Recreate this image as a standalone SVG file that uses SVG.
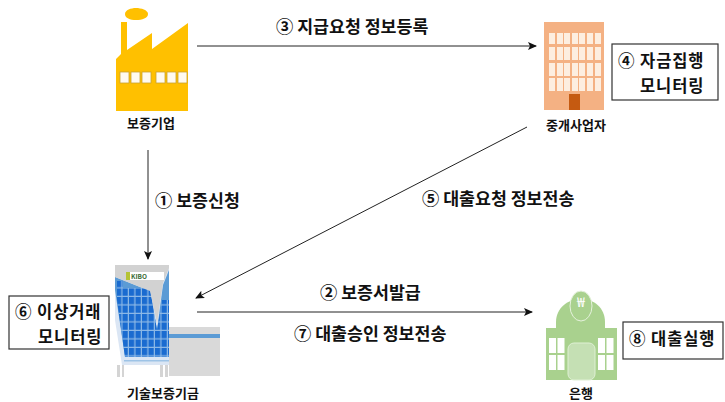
<svg xmlns="http://www.w3.org/2000/svg" width="725" height="402" viewBox="0 0 725 402">
<style>
text{font-family:"Noto Sans CJK KR","Noto Sans",sans-serif;fill:#111;font-weight:700}
.l{font-size:17.300px}
.n{font-size:13px;text-anchor:middle}
.b{font-size:16.500px;letter-spacing:.9px}
.box{fill:#fff;stroke:#333;stroke-width:1.2}
.c{fill:none;stroke:#222;stroke-width:1}
.fw{fill:#fffaf0;stroke:#c9a233;stroke-width:.8}
.ow{fill:#fdeee0}
.gw{fill:#fff}
</style>
<defs>
<marker id="a" markerWidth="9" markerHeight="8" refX="8" refY="4" orient="auto" markerUnits="userSpaceOnUse"><path d="M0 0L9 4L0 8L2 4Z" fill="#111"/></marker>
<pattern id="cells" x="116" y="280" width="6.500" height="8.500" patternUnits="userSpaceOnUse"><rect width="6.500" height="8.500" fill="#8db9e6"/><rect width="5.300" height="7.300" fill="#1a6bd0"/></pattern>
</defs>
<rect width="725" height="402" fill="#fff"/>
<g id="connectors">
<path class="c" marker-end="url(#a)" d="M197 46H536"/>
<path class="c" marker-end="url(#a)" d="M148 150V259"/>
<path class="c" marker-end="url(#a)" d="M527 127L196 298"/>
<path class="c" marker-end="url(#a)" d="M197 312H532"/>
</g>
<g id="factory">
<path d="M125 14C125 10 131 8 136 8S148 10 148 14S142 20 136 20S125 18 125 14Z" fill="#ffc000"/>
<path d="M116 59L121 54V22H127V50L152 33V49L188 23V111H116Z" fill="#ffc000"/>
<rect class="fw" x="120" y="72" width="9" height="11"/><rect class="fw" x="131" y="72" width="9" height="11"/><rect class="fw" x="142" y="72" width="9" height="11"/><rect class="fw" x="156" y="72" width="9" height="11"/><rect class="fw" x="167" y="72" width="9" height="11"/><rect class="fw" x="178" y="72" width="9" height="11"/>
<text class="n" x="151" y="128">보증기업</text>
</g>
<g id="broker">
<rect x="544" y="22" width="60" height="88" fill="#f4b183"/>
<g class="ow">
<path d="M549 33h6v11h-6zM557 33h6v11h-6zM564 33h6v11h-6zM572 33h6v11h-6zM579 33h6v11h-6zM587 33h6v11h-6zM595 33h6v11h-6z"/>
<path d="M549 47h6v13h-6zM557 47h6v13h-6zM564 47h6v13h-6zM572 47h6v13h-6zM579 47h6v13h-6zM587 47h6v13h-6zM595 47h6v13h-6z"/>
<path d="M549 63h6v13h-6zM557 63h6v13h-6zM564 63h6v13h-6zM572 63h6v13h-6zM579 63h6v13h-6zM587 63h6v13h-6zM595 63h6v13h-6z"/>
<path d="M549 78h6v13h-6zM557 78h6v13h-6zM564 78h6v13h-6zM572 78h6v13h-6zM579 78h6v13h-6zM587 78h6v13h-6zM595 78h6v13h-6z"/>
</g>
<rect x="569" y="94" width="11" height="16" fill="#c55a11"/>
<text class="n" x="576" y="130">중개사업자</text>
</g>
<g id="kibo">
<rect x="169" y="327" width="51" height="49" fill="#d9d9d9"/>
<rect x="169" y="334" width="51" height="4" fill="#5b9bd5"/>
<path d="M117 365H120V377H117ZM122 365H124V377H122ZM160 365H163V377H160ZM165 365H168V377H165Z" fill="#d4d4d4"/>
<path d="M115 265H169V365H122L115 320Z" fill="#dbe6f4"/>
<path d="M115 277L150 291L157 330L163 285L169 270V357H125L115 290Z" fill="#5b9bd5"/>
<path d="M117 281H123V288H150L157 330L162 300H169V357H125L117 300Z" fill="url(#cells)"/>
<path d="M115 265H169V268L163 283L157 323L150 291L115 277Z" fill="#d2d2d2"/>
<rect x="124" y="360" width="45" height="1.500" fill="#9dc3e6"/>
<rect x="126" y="272" width="38" height="8" fill="#fff"/>
<rect x="126" y="272" width="4" height="8" fill="#b5c334"/>
<text x="131" y="278.500" style="font-size:6.500px;fill:#3a6b35">KIBO</text>
<text class="n" x="163" y="398">기술보증기금</text>
</g>
<g id="bank">
<path d="M556 328V322C556 308 568 299 581 299S605 308 605 322V328Z" fill="#a9d18e"/>
<ellipse cx="581" cy="306" rx="11" ry="15" fill="#a9d18e" stroke="#e6f2dd"/>
<text x="581" y="307" style="font-size:14px;fill:#fff;text-anchor:middle;font-weight:400">₩</text>
<rect x="546" y="328" width="71" height="52" fill="#a9d18e"/>
<path class="gw" d="M549 338h7v15h-7zM557.500 338h7v15h-7zM549 355h7v15h-7zM557.500 355h7v15h-7zM598 338h7v15h-7zM606.500 338h7v15h-7zM598 355h7v15h-7zM606.500 355h7v15h-7z"/>
<rect x="568" y="343" width="27" height="37" rx="6" fill="#c5e0b4" stroke="#dff0d4"/>
<text class="n" x="581" y="398">은행</text>
</g>
<g id="box4">
<rect class="box" x="612" y="44" width="106" height="56"/>
<text class="b" x="618" y="67">④ 자금집행</text>
<text class="b" x="640" y="91.500">모니터링</text>
</g>
<g id="box6">
<rect class="box" x="9" y="296" width="100" height="53"/>
<text class="b" x="15" y="318">⑥ 이상거래</text>
<text class="b" x="38" y="342.500">모니터링</text>
</g>
<g id="box8">
<rect class="box" x="623" y="322" width="100" height="37"/>
<text class="b" x="629" y="345">⑧ 대출실행</text>
</g>
<g id="labels">
<text class="l" x="276" y="33">③ 지급요청 정보등록</text>
<text class="l" x="155" y="207">① 보증신청</text>
<text class="l" x="422" y="205">⑤ 대출요청 정보전송</text>
<text class="l" x="320" y="299">② 보증서발급</text>
<text class="l" x="294" y="340">⑦ 대출승인 정보전송</text>
</g>
</svg>
